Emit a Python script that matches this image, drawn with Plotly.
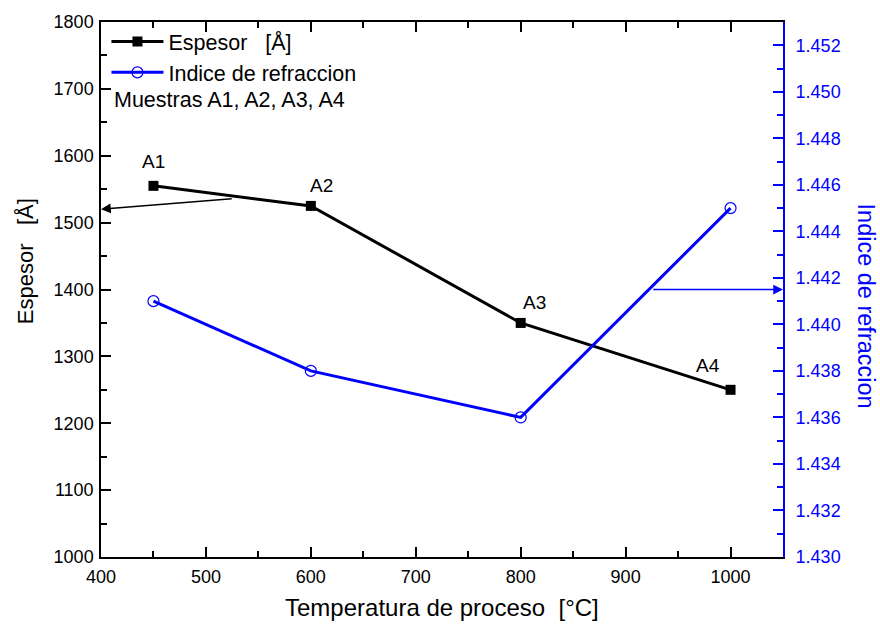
import plotly.graph_objects as go

# Process temperatures (°C) for samples A1..A4
temperatura = [450, 600, 800, 1000]
muestras = ["A1", "A2", "A3", "A4"]
espesor = [1555, 1525, 1350, 1250]          # thickness, Å
indice = [1.441, 1.438, 1.436, 1.445]       # refractive index

x_ticks = [400, 500, 600, 700, 800, 900, 1000]
y_ticks = [1000, 1100, 1200, 1300, 1400, 1500, 1600, 1700, 1800]
y2_ticks = [1.430, 1.432, 1.434, 1.436, 1.438, 1.440, 1.442, 1.444, 1.446, 1.448, 1.450, 1.452]

FONT = "Liberation Sans, Arial, sans-serif"
BLUE = "#0000ff"

fig = go.Figure()

fig.add_trace(go.Scatter(
    x=temperatura, y=espesor, name="Espesor\u00a0\u00a0\u00a0[Å]",
    mode="lines+markers",
    line=dict(color="black", width=3),
    marker=dict(symbol="square", size=10, color="black"),
))
fig.add_trace(go.Scatter(
    x=temperatura, y=indice, name="Indice de refraccion", yaxis="y2",
    mode="lines+markers",
    line=dict(color=BLUE, width=3),
    marker=dict(symbol="circle-open", size=11, color=BLUE, line=dict(width=1.2, color=BLUE)),
))

annotations = []
# Sample labels above each thickness point
label_offsets = [(0, -24), (11, -20), (14, -20), (-23, -24)]
for t, e, m, (dx, dy) in zip(temperatura, espesor, muestras, label_offsets):
    annotations.append(dict(x=t, y=e, xref="x", yref="y", text=m, showarrow=False,
                            xshift=dx, yshift=-dy, font=dict(family=FONT, size=19, color="black")))

# Arrows pointing each curve to its axis
annotations.append(dict(x=400, y=1520, xref="x", yref="y", ax=526, ay=1536, axref="x", ayref="y",
                        text="", showarrow=True, arrowhead=2, arrowsize=1.3, arrowwidth=1.5,
                        arrowcolor="black", standoff=0))
annotations.append(dict(x=1050, y=1.4415, xref="x", yref="y2", ax=925, ay=1.4415, axref="x", ayref="y2",
                        text="", showarrow=True, arrowhead=2, arrowsize=1.3, arrowwidth=1.5,
                        arrowcolor=BLUE, standoff=0))

annotations.append(dict(x=0, y=1, xref="paper", yref="paper", xanchor="left", yanchor="middle",
                        xshift=11, yshift=-78, text="Muestras A1, A2, A3, A4", showarrow=False,
                        font=dict(family=FONT, size=21.5, color="black")))

# Axis titles
annotations.append(dict(x=0.5, y=0, xref="paper", yref="paper", xanchor="center", yanchor="middle",
                        yshift=-50, text="Temperatura de proceso\u00a0\u00a0[°C]", showarrow=False,
                        font=dict(family=FONT, size=24, color="black")))
annotations.append(dict(x=0, y=0.553, xref="paper", yref="paper", xanchor="center", yanchor="middle",
                        xshift=-76, textangle=-90, text="Espesor\u00a0\u00a0\u00a0[Å]", showarrow=False,
                        font=dict(family=FONT, size=22, color="black")))
annotations.append(dict(x=1, y=0.47, xref="paper", yref="paper", xanchor="center", yanchor="middle",
                        xshift=83, textangle=90, text="Indice de refraccion", showarrow=False,
                        font=dict(family=FONT, size=23.5, color=BLUE)))

fig.update_layout(
    width=880, height=626,
    margin=dict(l=101, r=97, t=20, b=69),
    paper_bgcolor="white", plot_bgcolor="white",
    font=dict(family=FONT, size=18, color="black"),
    showlegend=True,
    legend=dict(x=0.008, y=1.002, xanchor="left", yanchor="top", bgcolor="rgba(0,0,0,0)",
                font=dict(family=FONT, size=21.5, color="black"), itemwidth=52,
                tracegroupgap=0, borderwidth=0),
    xaxis=dict(range=[400, 1050], tickvals=x_ticks, showgrid=False, zeroline=False,
               showline=True, linecolor="black", linewidth=1.5, mirror="ticks",
               ticks="inside", ticklen=10, tickwidth=1.5, tickcolor="black",
               minor=dict(dtick=50, ticks="inside", ticklen=6, tickwidth=1.5, tickcolor="black"),
               ticklabelstandoff=3,
               tickfont=dict(family=FONT, size=18, color="black")),
    yaxis=dict(range=[1000, 1800], tickvals=y_ticks, showgrid=False, zeroline=False,
               showline=True, linecolor="black", linewidth=1.5,
               ticks="inside", ticklen=10, tickwidth=1.5, tickcolor="black",
               minor=dict(dtick=50, ticks="inside", ticklen=6, tickwidth=1.5, tickcolor="black"),
               ticklabelstandoff=2,
               tickfont=dict(family=FONT, size=18, color="black")),
    yaxis2=dict(range=[1.430, 1.453], tickvals=y2_ticks, tickformat=".3f", overlaying="y", side="right",
                showgrid=False, zeroline=False, showline=True, linecolor=BLUE, linewidth=2,
                ticks="inside", ticklen=10, tickwidth=1.5, tickcolor=BLUE,
                minor=dict(dtick=0.001, ticks="inside", ticklen=6, tickwidth=1.5, tickcolor=BLUE),
                ticklabelstandoff=7,
                tickfont=dict(family=FONT, size=18, color=BLUE)),
    annotations=annotations,
)

fig.write_html("out.html")
